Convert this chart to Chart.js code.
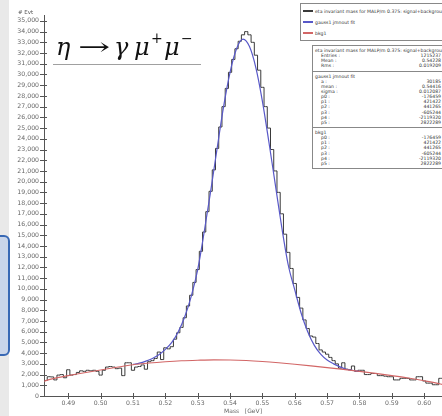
<!DOCTYPE html>
<html>
<head>
<meta charset="utf-8">
<script src="https://cdn.jsdelivr.net/npm/chart.js@4.4.1/dist/chart.umd.min.js"></script>
<style>
  html, body { margin: 0; padding: 0; background: #fff; }
  #wrap { position: relative; width: 442px; height: 416px; overflow: hidden; background: #fff; font-family: "DejaVu Sans", sans-serif; }
  #plot { position: absolute; left: 0; top: 0; }
  .edge { position: absolute; left: 0; top: 0; width: 9px; height: 416px; background: #e9e9e9; }
  .tab { position: absolute; left: -14px; top: 235px; width: 20px; height: 117px; border: 2px solid #3868b4; border-radius: 6px; background: #c9d5ea; }
  .ylab { position: absolute; left: 18px; top: 9px; font-size: 5.5px; color: #555; }
  .formula { position: absolute; left: 53px; top: 34px; width: 148px; height: 30px; border-bottom: 1px solid #a0a0a0;
             font-family: "DejaVu Serif", serif; font-size: 24px; color: #111; white-space: nowrap; }
  .formula span { position: absolute; top: -1px; }
  .formula .it { font-style: italic; }
  .formula .arrow { transform: scaleX(1.6); transform-origin: left center; }
  .formula .sup { font-size: 14px; top: -4px; }
  .legend { position: absolute; left: 300px; top: 3px; width: 150px; height: 36px; border: 1px solid #888; background: #fff; }
  .legend div { position: absolute; left: 14px; font-size: 4.6px; color: #333; white-space: nowrap; }
  .legend span { position: absolute; left: -12px; top: 1px; width: 10px; height: 2px; }
  .stats { position: absolute; left: 312px; top: 45px; width: 140px; border: 1px solid #888; background: #fff; font-size: 4.6px; color: #333; }
  .stats .sec { border-top: 1px solid #888; padding: 2px 0 2px 2px; }
  .stats .sec:first-child { border-top: none; }
  .stats .row { height: 5.15px; line-height: 5.15px; position: relative; white-space: nowrap; }
  .stats .row b { font-weight: normal; position: absolute; right: 12px; }
  .stats .row.k { padding-left: 6px; }
</style>
</head>
<body>
<div id="wrap">
  <canvas id="plot" width="442" height="416"></canvas>
  <div class="edge"></div>
  <div class="tab"></div>
  <div class="ylab"># Evt</div>
  <div class="formula">
    <span class="it" style="left:3px">η</span>
    <span class="arrow" style="left:25px">→</span>
    <span class="it" style="left:61px">γ</span>
    <span class="it" style="left:81px">μ</span>
    <span class="sup" style="left:98px">+</span>
    <span class="it" style="left:111px">μ</span>
    <span class="sup" style="left:128px">−</span>
  </div>
  <div class="legend" id="legend"></div>
  <div class="stats" id="stats"></div>
</div>
<script>
// histogram: 1 MeV bins, first bin centred at 0.483 GeV
const BIN_FIRST = 0.483;
const BIN_WIDTH = 0.001;
const histCounts = [
  1450, 1800, 1780, 1500, 1950, 2000, 1700, 2450, 1950, 2000,
  2200, 2350, 2300, 2400, 2350, 2400, 2300, 1950, 2400, 2700,
  2750, 2700, 2550, 2600, 1900, 3100, 3100, 2400, 2700, 2750,
  2900, 2500, 3200, 3300, 3500, 4100, 3400, 4500, 4400, 4600,
  5300, 5900, 6400, 7300, 8400, 9400, 10600, 11800, 13500, 15300,
  17200, 19100, 21100, 23100, 25100, 27000, 28700, 30200, 31400, 32400,
  33100, 33700, 34000, 33700, 33000, 31800, 30400, 28800, 27000, 25000,
  23000, 21000, 19000, 17000, 15100, 13400, 11900, 10500, 9200, 8200,
  7100, 6300, 5600, 5500, 4900, 4300, 4100, 3900, 3600, 3300,
  3000, 2600, 3100, 2500, 2450, 2800, 2300, 2400, 2400, 2000,
  2000, 2100, 2100, 1900, 1900, 1850, 1800, 1800, 1500, 1500,
  1650, 1650, 1650, 1500, 1500, 1800, 1800, 1400, 1200, 1200,
  1050, 1050, 1650
];

// signal + background fit
const fitMass = [
  0.510, 0.512, 0.514, 0.516, 0.518, 0.520, 0.522, 0.524, 0.526, 0.528,
  0.530, 0.532, 0.534, 0.536, 0.538, 0.540, 0.542, 0.544, 0.546, 0.548,
  0.550, 0.552, 0.554, 0.556, 0.558, 0.560, 0.562, 0.564, 0.566, 0.568,
  0.570, 0.572, 0.574, 0.576, 0.578, 0.580
];
const fitValues = [
  2950, 3060, 3250, 3500, 3850, 4350, 5000, 6000, 7400, 9300,
  11800, 15300, 19100, 23100, 27000, 30200, 32400, 33300, 32600, 30600,
  27500, 23700, 19700, 15700, 12200, 9900, 7700, 6000, 4750, 3900,
  3350, 3000, 2720, 2500, 2380, 2300
];

// background polynomial
const bkgMass = [
  0.4825, 0.485, 0.490, 0.495, 0.500, 0.505, 0.510, 0.515, 0.520, 0.525,
  0.530, 0.535, 0.540, 0.545, 0.550, 0.555, 0.560, 0.565, 0.570, 0.575,
  0.580, 0.585, 0.590, 0.595, 0.600, 0.605, 0.6055
];
const bkgValues = [
  1380, 1600, 1900, 2170, 2420, 2680, 2920, 3080, 3200, 3290,
  3340, 3370, 3360, 3310, 3220, 3100, 2960, 2810, 2650, 2480,
  2300, 2110, 1900, 1680, 1420, 1120, 1080
];

const xTicks = [0.49, 0.50, 0.51, 0.52, 0.53, 0.54, 0.55, 0.56, 0.57, 0.58, 0.59, 0.60];
const yTicks = Array.from({ length: 36 }, (_, i) => i * 1000);

const seriesNames = ["eta invariant mass for MALP/m 0.375: signal+background", "gauss1 jmnout fit", "bkg1"];
const seriesColors = ["#3a3a3a", "#5858c8", "#d26666"];

const statsSections = [
  { title: "eta invariant mass for MALP/m 0.375: signal+background", rows: [["Entries :", "1215237"], ["Mean :", "0.54228"], ["Rms :", "0.019209"]] },
  { title: "gauss1 jmnout fit", rows: [["a :", "30185"], ["mean :", "0.54416"], ["sigma :", "0.012087"], ["p0 :", "-176459"], ["p1 :", "421422"], ["p2 :", "441265"], ["p3 :", "-605244"], ["p4 :", "-2119320"], ["p5 :", "2822289"]] },
  { title: "bkg1", rows: [["p0 :", "-176459"], ["p1 :", "421422"], ["p2 :", "441265"], ["p3 :", "-605244"], ["p4 :", "-2119320"], ["p5 :", "2822289"]] },
];

function histPoints() {
  const pts = [{ x: BIN_FIRST - BIN_WIDTH / 2, y: histCounts[0] }];
  histCounts.forEach((c, i) => pts.push({ x: BIN_FIRST + i * BIN_WIDTH, y: c }));
  pts.push({ x: BIN_FIRST + (histCounts.length - 0.5) * BIN_WIDTH, y: histCounts[histCounts.length - 1] });
  return pts;
}

function zip(xs, ys) {
  return xs.map((x, i) => ({ x, y: ys[i] }));
}

const AXIS_COLOR = "#555";
const LABEL_COLOR = "#666";

// ticks that cross the axis line, drawn on both sides
const crossTicks = {
  id: "crossTicks",
  afterDraw(c) {
    const { ctx, chartArea, scales } = c;
    ctx.save();
    ctx.strokeStyle = AXIS_COLOR;
    ctx.lineWidth = 1;
    ctx.beginPath();
    scales.y.ticks.forEach((t) => {
      const y = Math.round(scales.y.getPixelForValue(t.value)) + 0.5;
      ctx.moveTo(chartArea.left - 4, y);
      ctx.lineTo(chartArea.left + 3, y);
    });
    scales.x.ticks.forEach((t) => {
      const x = Math.round(scales.x.getPixelForValue(t.value)) + 0.5;
      ctx.moveTo(x, chartArea.bottom - 3);
      ctx.lineTo(x, chartArea.bottom + 3);
    });
    ctx.stroke();
    ctx.restore();
  },
};

new Chart(document.getElementById("plot"), {
  type: "line",
  data: {
    datasets: [
      { label: seriesNames[0], data: histPoints(), borderColor: seriesColors[0], borderWidth: 1, stepped: "middle", pointRadius: 0, order: 3 },
      { label: seriesNames[1], data: zip(fitMass, fitValues), borderColor: seriesColors[1], borderWidth: 1.2, cubicInterpolationMode: "monotone", pointRadius: 0, order: 2 },
      { label: seriesNames[2], data: zip(bkgMass, bkgValues), borderColor: seriesColors[2], borderWidth: 1.1, cubicInterpolationMode: "monotone", pointRadius: 0, order: 1 },
    ],
  },
  options: {
    responsive: false,
    animation: false,
    layout: { padding: { top: 15, left: 0, right: 0, bottom: 0 } },
    plugins: { legend: { display: false }, tooltip: { enabled: false } },
    scales: {
      x: {
        type: "linear",
        min: 0.4825,
        max: 0.6055,
        afterBuildTicks: (s) => { s.ticks = xTicks.map((v) => ({ value: v })); },
        afterFit: (s) => { s.height = 20; },
        ticks: { color: LABEL_COLOR, font: { family: "DejaVu Sans", size: 6.2 }, padding: 4, maxRotation: 0, callback: (v) => Number(v).toFixed(2) },
        grid: { display: true, drawOnChartArea: false, drawTicks: false },
        border: { display: true, color: AXIS_COLOR, width: 1 },
        title: { display: true, text: "Mass   [GeV]", color: LABEL_COLOR, font: { family: "DejaVu Sans", size: 6 }, padding: { top: 0, bottom: 1 } },
      },
      y: {
        type: "linear",
        min: 0,
        max: 35550,
        afterBuildTicks: (s) => { s.ticks = yTicks.map((v) => ({ value: v })); },
        afterFit: (s) => { s.width = 44; },
        ticks: { color: LABEL_COLOR, font: { family: "DejaVu Sans", size: 6.2 }, padding: 5, callback: (v) => Number(v).toLocaleString("en-US") },
        grid: { display: true, drawOnChartArea: false, drawTicks: false },
        border: { display: true, color: AXIS_COLOR, width: 1 },
      },
    },
  },
  plugins: [crossTicks],
});

// legend box
const legend = document.getElementById("legend");
seriesNames.forEach((name, i) => {
  const row = document.createElement("div");
  row.style.top = (5 + i * 11) + "px";
  row.textContent = name;
  const swatch = document.createElement("span");
  swatch.style.background = seriesColors[i];
  row.appendChild(swatch);
  legend.appendChild(row);
});

// statistics box
const stats = document.getElementById("stats");
statsSections.forEach((sec) => {
  const box = document.createElement("div");
  box.className = "sec";
  const head = document.createElement("div");
  head.className = "row";
  head.textContent = sec.title;
  box.appendChild(head);
  sec.rows.forEach(([k, v]) => {
    const r = document.createElement("div");
    r.className = "row k";
    r.textContent = k;
    const b = document.createElement("b");
    b.textContent = v;
    r.appendChild(b);
    box.appendChild(r);
  });
  stats.appendChild(box);
});
</script>
</body>
</html>
